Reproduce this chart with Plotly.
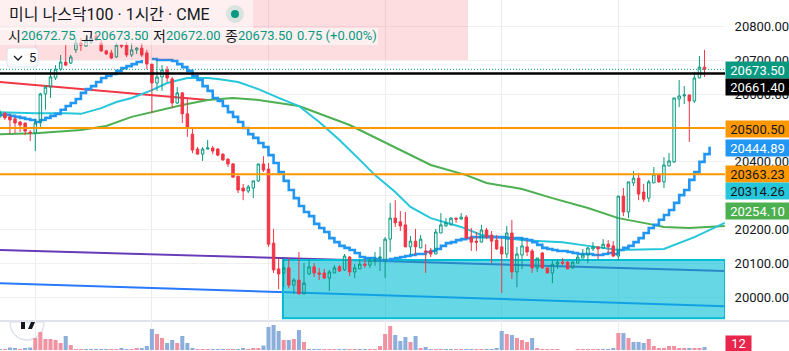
import plotly.graph_objects as go

W, H = 789, 351
TEAL = "#089981"; RED = "#F23645"

ohlc_rows = [
(20533,20554,20530,20547),(20544,20547,20524,20530),(20533,20539,20482,20524),(20527,20533,20485,20515),
(20518,20521,20488,20509),(20515,20515,20479,20491),(20488,20494,20462,20485),(20485,20527,20432,20515),
(20518,20604,20497,20601),(20601,20627,20554,20621),(20621,20674,20589,20651),(20648,20686,20642,20674),
(20674,20716,20669,20695),(20695,20745,20683,20686),(20692,20716,20689,20710),(20731,20766,20722,20751),
(20751,20766,20728,20745),(20742,20766,20742,20757),(20754,20781,20748,20766),(20772,20781,20757,20760),
(20751,20760,20725,20728),(20728,20731,20716,20719),(20722,20731,20704,20707),(20710,20751,20707,20745),
(20745,20748,20736,20742),(20745,20754,20710,20716),(20716,20751,20710,20731),(20731,20739,20719,20736),
(20736,20751,20710,20716),(20722,20731,20674,20689),(20689,20689,20544,20633),(20633,20701,20610,20651),
(20651,20686,20610,20672),(20672,20683,20636,20648),(20645,20651,20559,20574),(20574,20621,20571,20604),
(20604,20606,20515,20542),(20542,20589,20474,20503),(20482,20500,20426,20435),(20438,20444,20423,20423),
(20423,20444,20403,20438),(20438,20465,20438,20441),(20441,20447,20423,20432),(20438,20441,20417,20420),
(20423,20426,20403,20406),(20408,20411,20385,20394),(20394,20397,20355,20355),(20358,20358,20308,20317),
(20323,20335,20287,20314),(20314,20332,20308,20326),(20323,20344,20293,20344),(20344,20394,20341,20394),
(20394,20417,20370,20376),(20379,20397,20149,20157),(20160,20202,20072,20081),(20084,20116,20024,20069),
(20072,20116,20030,20087),(20087,20116,20027,20036),(20036,20057,20010,20051),(20051,20134,20010,20010),
(20010,20101,20010,20042),(20069,20113,20066,20090),(20090,20101,20060,20072),(20072,20087,20051,20069),
(20072,20084,20054,20057),(20057,20081,20019,20075),(20072,20095,20072,20087),(20090,20095,20075,20078),
(20081,20128,20078,20122),(20119,20122,20063,20075),(20075,20098,20057,20087),(20084,20113,20084,20098),
(20098,20113,20087,20095),(20095,20116,20087,20110),(20107,20134,20093,20110),(20116,20149,20078,20119),
(20107,20178,20057,20172),(20172,20279,20134,20234),(20234,20287,20208,20220),(20223,20255,20196,20211),
(20214,20252,20149,20149),(20149,20181,20125,20166),(20166,20202,20125,20149),(20146,20184,20146,20172),
(20137,20157,20072,20134),(20137,20146,20119,20128),(20128,20202,20128,20193),(20190,20249,20190,20214),
(20211,20234,20208,20220),(20214,20237,20214,20234),(20234,20234,20220,20231),(20231,20249,20231,20237),
(20237,20243,20175,20175),(20178,20205,20137,20163),(20166,20193,20137,20163),(20163,20214,20163,20199),
(20199,20205,20172,20178),(20184,20196,20101,20166),(20169,20184,20140,20143),(20149,20175,20013,20128),
(20128,20211,20116,20190),(20190,20229,20054,20075),(20075,20149,20030,20128),(20125,20175,20084,20152),
(20149,20169,20122,20134),(20137,20143,20072,20087),(20087,20116,20075,20116),(20131,20134,20084,20087),
(20087,20087,20072,20072),(20072,20110,20042,20098),(20098,20113,20084,20104),(20104,20116,20095,20101),
(20104,20107,20084,20084),(20087,20107,20084,20104),(20101,20125,20101,20119),(20116,20143,20116,20125),
(20125,20149,20101,20146),(20143,20163,20137,20149),(20149,20149,20113,20143),(20146,20172,20143,20157),
(20157,20169,20131,20149),(20152,20166,20119,20122),(20122,20299,20110,20299),(20299,20323,20240,20252),
(20252,20341,20234,20341),(20338,20373,20329,20352),(20352,20367,20287,20305),(20311,20335,20282,20290),
(20293,20347,20282,20341),(20338,20385,20338,20364),(20361,20364,20338,20341),(20341,20414,20323,20391),
(20388,20426,20388,20403),(20400,20589,20397,20589),(20586,20642,20562,20595),(20595,20624,20571,20598),
(20598,20598,20459,20580),(20580,20666,20574,20648),(20648,20713,20648,20680),(20680,20731,20651,20673.5),
]
bars = list(range(len(ohlc_rows)))
opens = [r[0] for r in ohlc_rows]
highs = [r[1] for r in ohlc_rows]
lows = [r[2] for r in ohlc_rows]
closes = [r[3] for r in ohlc_rows]

blue_step = [
20539,20539,20536,20533,20530,20527,20524,20518,20524,20530,20536,20542,20554,20565,20574,20586,20604,20615,20624,20636,
20648,20654,20660,20669,20677,20683,20689,20695,20701,None,20704,20701,20701,20701,20698,20689,20680,20669,20654,20642,
20624,20610,20589,20580,20565,20547,20533,20518,20500,20482,20471,20456,20444,20420,20397,20370,20344,20317,20293,20270,
20252,20240,20217,20205,20193,20175,20163,20152,20146,20140,20131,20119,20116,20116,20113,20110,20110,20113,20116,20119,
20122,20125,20128,20128,20134,20137,20143,20152,20160,20163,20169,20172,20175,20178,20178,20178,20178,20178,20178,20178,
20175,20175,20175,20172,20169,20163,20155,20146,20143,20140,20137,20137,20134,20131,20128,20128,20128,20125,20125,20128,
20131,20128,20140,20146,20152,20163,20175,20190,20205,20214,20229,20243,20258,20279,20302,20317,20347,20370,20400,20423,
20444.89]

cyan_bars = [0,7,13,16,20,23,26,30,33,37,41,43,47,51,55,59,63,67,71,74,78,81,85,91,95,103,107,111,116,122,131,134,137,143]
cyan_vals = [20547,20544,20544,20542,20559,20577,20589,20612,20633,20648,20648,20645,20636,20615,20589,20565,20518,20465,
             20406,20361,20311,20267,20234,20208,20184,20169,20166,20163,20152,20140,20143,20160,20178,20220]
green_bars = [0,7,16,21,26,32,36,41,46,51,55,59,69,79,85,92,96,103,109,116,122,128,131,136,143]
green_vals = [20482,20485,20494,20506,20533,20554,20568,20583,20589,20583,20574,20565,20509,20435,20391,20361,20338,20320,
              20293,20264,20234,20217,20208,20205,20211]
red_bars = [0,41]
red_vals = [20636,20583]
purple_bars = [0,143]
purple_vals = [20140,20078]
trend_bars = [0,143]
trend_vals = [20042,19974]
zone_bars = [55.85,143.04]
zone_vals = [19938,20110]
orange_levels = [20500.50,20363.23]
black_level = 20661.40
last_price = 20673.50

vol_vals = [4,4,10,5,3,6,10,48,72,44,44,40,28,56,20,
            3,3,3,3,3,3,3,3,3,5,
            4,3,5,6,16,84,64,48,28,40,28,56,28,5,
            3,3,3,3,3,3,3,3,4,8,3,5,7,18,
            92,100,76,40,40,44,80,32,
            3,3,3,3,3,3,3,3,3,4,3,3,4,4,
            16,64,96,60,36,52,32,56,8,12,
            3,3,3,3,3,3,3,
            4,4,4,4,4,4,
            8,76,64,60,48,
            40,32,48,8,
            3,3,3,3,0,0,0,3,3,3,3,3,4,4,5,
            68,68,48,32,32,28,44,16,8,8,16,16,8,8,8,8,8,12]
vol_kind = ("bpbbpbbppppppbp" "ppbbbbbppb" "bppbbbppbbpbbb" "pppbbbppbbpppb" "bbbpbpbp"
            "bbbpppbbppbbpp" "pppbbbpbpb" "bppbbpp" "bbppbb" "bbpbp" "ppbp"
            "ppppppppppppbbb" "pbpbbbpppppppp" "bppb")
vol_colors = ["#8CAEDB" if k == "b" else "#F092A2" for k in vol_kind]

y_ticks = [20000,20100,20200,20300,20400,20500,20600,20700,20800]
y_tick_text = ["20000.00","20100.00","20200.00","","20400.00","","20600.00","20700.00","20800.00"]
grid_bars = [7,30,53,76,99,122]

# price tags: text, centre pixel row, fill, text colour
tag_texts = ["20673.50","20661.40","20500.50","20444.89","20363.23","20314.26","20254.10"]
tag_rows = [70,87,128.5,148,174,191,211]
tag_fills = [TEAL,"#000000","#FF9800","#2196F3","#FF9800","#26C6DA","#4CAF50"]
tag_inks = ["#FFFFFF","#FFFFFF","#131722","#FFFFFF","#131722","#131722","#FFFFFF"]

title_text = "미니 나스닥100 · 1시간 · CME"
ohlc_labels = ["시","고","저","종"]
ohlc_texts = ["20672.75","20673.50","20672.00","20673.50"]
change_text = "0.75 (+0.00%)"
volume_text = "12"

def px(x): return x / W
def py(y): return 1 - y / H

FONT = "Roboto, 'Noto Sans CJK KR', sans-serif"
fig = go.Figure()

# Base subplot: indicators below the candles
fig.add_trace(go.Scatter(x=red_bars, y=red_vals, mode="lines", line=dict(color=RED, width=2), xaxis="x", yaxis="y", hoverinfo="skip"))
fig.add_trace(go.Scatter(x=green_bars, y=green_vals, mode="lines", line=dict(color="#4CAF50", width=2), xaxis="x", yaxis="y", hoverinfo="skip"))
fig.add_trace(go.Scatter(x=cyan_bars, y=cyan_vals, mode="lines", line=dict(color="#26C6DA", width=2), xaxis="x", yaxis="y", hoverinfo="skip"))
fig.add_trace(go.Scatter(x=list(range(len(blue_step))), y=blue_step, mode="lines",
                         line=dict(color="#2196F3", width=2.6, shape="hv"), xaxis="x", yaxis="y", hoverinfo="skip"))

# Volume pane
fig.add_trace(go.Bar(x=bars, y=vol_vals, marker=dict(color=vol_colors, line=dict(width=0)), xaxis="x2", yaxis="y2", hoverinfo="skip"))

# Overlay subplot: candles and horizontal levels
fig.add_trace(go.Candlestick(x=bars, open=opens, high=highs, low=lows, close=closes, xaxis="x3", yaxis="y3",
                             whiskerwidth=0,
                             increasing=dict(line=dict(color=TEAL, width=1), fillcolor="rgba(0,0,0,0)"),
                             decreasing=dict(line=dict(color=RED, width=1), fillcolor=RED), hoverinfo="skip"))
x_ends = [0.04,143.04]
for lvl in orange_levels:
    fig.add_trace(go.Scatter(x=x_ends, y=[lvl,lvl], mode="lines", line=dict(color="#FF9800", width=2), xaxis="x3", yaxis="y3", hoverinfo="skip"))
fig.add_trace(go.Scatter(x=x_ends, y=[black_level,black_level], mode="lines", line=dict(color="#000000", width=2.4), xaxis="x3", yaxis="y3", hoverinfo="skip"))
fig.add_trace(go.Scatter(x=x_ends, y=[last_price,last_price], mode="lines", line=dict(color=TEAL, width=1, dash="1px 2px"), xaxis="x3", yaxis="y3", hoverinfo="skip"))

shapes = []
shapes.append(dict(type="line", layer="between", xref="x", yref="y", x0=purple_bars[0], x1=purple_bars[1], y0=purple_vals[0], y1=purple_vals[1], line=dict(color="#673AB7", width=2)))
shapes.append(dict(type="line", layer="between", xref="x", yref="y", x0=trend_bars[0], x1=trend_bars[1], y0=trend_vals[0], y1=trend_vals[1], line=dict(color="#2979FF", width=2)))
shapes.append(dict(type="rect", layer="between", xref="x", yref="y", x0=zone_bars[0], x1=zone_bars[1], y0=zone_vals[0], y1=zone_vals[1],
                   fillcolor="rgba(0,188,212,0.6)", line=dict(color="#00BCD4", width=2)))

def rect_px(x0,y0,x1,y1,fill,layer="above",line=None):
    return dict(type="rect", layer=layer, xref="paper", yref="paper", x0=px(x0), x1=px(x1), y0=py(y1), y1=py(y0),
                fillcolor=fill, line=line or dict(width=0))
def path_px(cmds,fill,line,layer="above"):
    out = []
    for c in cmds:
        out.append(c[0] + " " + " ".join(f"{px(c[i])},{py(c[i+1])}" for i in range(1,len(c),2)))
    return dict(type="path", layer=layer, xref="paper", yref="paper", path=" ".join(out)+" ", fillcolor=fill, line=line)

# Pane divider
shapes.append(rect_px(0,320,W,322,"#E0E3EB",layer="below"))
# Logo badge, clipped by the pane divider
shapes.append(path_px([("M",10,322),("C",10,333,18,340,27,340),("C",36,340,44,333,44,322),("Z",)],"#FFFFFF",dict(color="#E0E3EB",width=1.5),layer="below"))
shapes.append(rect_px(21,322,25,329,"#131722",layer="below"))
shapes.append(path_px([("M",31,322),("L",35,322),("L",32,329),("L",28,329),("Z",)],"#131722",dict(width=0),layer="below"))
# Header overlay
shapes.append(rect_px(0,0,468,60,"rgba(242,54,69,0.17)"))
shapes.append(rect_px(0,0,253,30,"rgba(255,255,255,0.55)"))
shapes.append(rect_px(0,28,378,45,"rgba(255,255,255,0.55)"))
shapes.append(dict(type="circle", layer="above", xref="paper", yref="paper", x0=px(226), x1=px(244), y0=py(23), y1=py(5), fillcolor="rgba(8,153,129,0.15)", line=dict(width=0)))
shapes.append(dict(type="circle", layer="above", xref="paper", yref="paper", x0=px(231), x1=px(239), y0=py(18), y1=py(10), fillcolor=TEAL, line=dict(width=0)))
# Collapse button
shapes.append(path_px([("M",10,48),("L",35,48),("Q",38,48,38,51),("L",38,64),("Q",38,67,35,67),("L",10,67),("Q",7,67,7,64),("L",7,51),("Q",7,48,10,48),("Z",)],"#FFFFFF",dict(color="#E0E3EB",width=1)))
shapes.append(path_px([("M",14,56),("L",18,60),("L",22,56)],"rgba(0,0,0,0)",dict(color="#131722",width=1.3)))

ann = []
def text(x,y,s,size,color="#131722",xanchor="left",**kw):
    ann.append(dict(xref="paper",yref="paper",x=px(x),y=py(y),text=s,showarrow=False,xanchor=xanchor,yanchor="middle",
                    font=dict(family=FONT,size=size,color=color),borderpad=0,**kw))
text(8,14.5,title_text,16)
xs_lbl = [7,80,152,224]
xs_val = [20,93,165,237]
for a,b,l,v in zip(xs_lbl,xs_val,ohlc_labels,ohlc_texts):
    text(a,36,l,14)
    text(b,36,v,13,TEAL)
text(296,36,change_text,13,TEAL)
text(28,57.5,"5",13)
for t,r,f,c in zip(tag_texts,tag_rows,tag_fills,tag_inks):
    ann.append(dict(xref="paper",yref="paper",x=px(725),y=py(r),text=t,showarrow=False,xanchor="left",yanchor="middle",
                    width=63,height=16,align="center",valign="middle",bgcolor=f,borderpad=0,
                    font=dict(family=FONT,size=13,color=c)))
ann.append(dict(xref="paper",yref="paper",x=px(725),y=py(343.5),text=volume_text,showarrow=False,xanchor="left",yanchor="middle",
                width=25,height=15,align="center",valign="middle",bgcolor="#E8254A",borderpad=0,
                font=dict(family=FONT,size=13,color="#FFFFFF")))

xdom = [0,725/W]
ymain = [30/H,1]
yrange = [19930.1,20878.3]
xrange_ = [0.04,143.04]
fig.update_layout(
    width=W,height=H,margin=dict(l=0,r=0,t=0,b=0),paper_bgcolor="#FFFFFF",plot_bgcolor="rgba(0,0,0,0)",
    showlegend=False,boxgap=0.3,bargap=0.2,hovermode=False,shapes=shapes,annotations=ann,
    xaxis=dict(domain=xdom,range=xrange_,tickvals=grid_bars,showgrid=True,gridcolor="#ECECF0",gridwidth=1,showticklabels=False,ticks="",zeroline=False,anchor="y",showline=False),
    yaxis=dict(domain=ymain,range=yrange,side="right",tickvals=y_ticks,ticktext=y_tick_text,showgrid=True,gridcolor="#F0F0F3",gridwidth=1,
               zeroline=False,ticks="outside",ticklen=6,tickcolor="rgba(0,0,0,0)",anchor="x",showline=False,
               tickfont=dict(family=FONT,size=13,color="#131722")),
    xaxis2=dict(domain=xdom,range=xrange_,tickvals=grid_bars,showgrid=True,gridcolor="#ECECF0",showticklabels=False,ticks="",zeroline=False,anchor="y2"),
    yaxis2=dict(domain=[0,30/H],range=[-4,116],showgrid=False,showticklabels=False,ticks="",zeroline=False,anchor="x2",side="right"),
    xaxis3=dict(overlaying="x",range=xrange_,anchor="y3",visible=False,rangeslider=dict(visible=False)),
    yaxis3=dict(overlaying="y",range=yrange,anchor="x3",visible=False,side="right"),
)
fig.write_html("out.html",config=dict(displayModeBar=False),post_script="document.body.style.margin='0';document.body.style.overflow='hidden';")
